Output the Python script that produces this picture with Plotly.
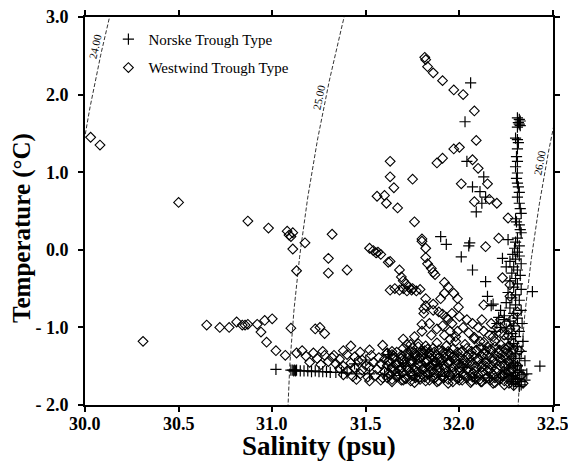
import numpy as np
import plotly.graph_objects as go

# ---- Westwind Trough Type stations (salinity psu, temperature degC) ----
ww_sal = [
    30.03, 30.08, 30.31, 30.50, 30.87, 30.98, 31.08, 31.09, 31.11, 31.10, 31.11, 31.13,
    30.65, 30.72, 30.77, 30.81, 30.84, 30.855, 30.87, 30.92, 30.94, 30.96, 31.00, 30.97,
    31.02, 31.07, 31.10, 31.13,
    31.175, 31.32, 31.30, 31.30, 31.40, 31.23, 31.255, 31.28,
    31.52, 31.54, 31.555, 31.565, 31.58, 31.62, 31.63, 31.68, 31.69, 31.70, 31.715, 31.73, 31.745,
    31.63, 31.655, 31.68, 31.70, 31.72, 31.75, 31.77, 31.79,
    31.80, 31.82, 31.82, 31.81, 31.82,
    31.82, 31.815, 31.83, 31.86, 31.91, 31.97, 32.02, 32.08, 32.09, 31.97, 32.00, 31.88,
    31.91, 32.07, 32.10, 32.01, 32.15, 32.08, 32.16, 32.20, 32.26, 32.21, 31.63, 31.63,
    31.75, 31.65, 31.56, 31.60, 31.61, 31.67, 31.76, 31.80,
    31.83, 31.85, 31.86, 31.87, 31.92, 31.94, 31.97, 31.99, 31.995, 31.92, 31.90, 31.86,
    31.82, 31.86, 31.81, 31.80, 31.91, 31.93, 31.95, 31.99, 32.13, 32.23, 32.27, 32.14,
    31.89, 31.91, 31.94, 31.96, 31.95,
    # upper edge of the cold band
    31.16, 31.22, 31.27, 31.33, 31.38, 31.42, 31.47, 31.52, 31.59, 31.64, 31.70, 31.74,
    31.78, 31.83, 31.88, 31.93, 31.98, 32.03, 32.08, 32.13, 32.18, 32.22,
    31.18, 31.24, 31.28, 31.32, 31.36, 31.40, 31.44, 31.48, 31.53, 31.57, 31.61, 31.65,
    31.69, 31.73, 31.77, 31.81, 31.85, 31.89, 31.93, 31.97, 32.01, 32.05, 32.09, 32.13,
    32.17, 32.21, 32.25,
    31.20, 31.26, 31.30, 31.34, 31.38, 31.42, 31.46, 31.50, 31.54, 31.58, 31.62, 31.66,
    31.70, 31.74, 31.78, 31.82, 31.86, 31.90, 31.94, 31.98, 32.02, 32.06, 32.10, 32.14,
    32.18, 32.22, 32.26,
    31.36, 31.40, 31.44, 31.48, 31.52, 31.56, 31.60, 31.64, 31.68, 31.72, 31.76, 31.80,
    31.84, 31.88, 31.92, 31.96, 32.00, 32.04, 32.08, 32.12, 32.16, 32.20, 32.24, 32.28,
    31.38, 31.43, 31.47, 31.51, 31.55, 31.59, 31.63, 31.67, 31.71, 31.75, 31.79, 31.83,
    31.87, 31.91, 31.95, 31.99, 32.03, 32.07, 32.11, 32.15, 32.19, 32.23, 32.27,
    31.45, 31.52, 31.58, 31.64, 31.70, 31.76, 31.82, 31.88, 31.94, 32.00, 32.06, 32.12,
    32.18, 32.24,
    # dense patch near 31.8 psu
    31.72, 31.75, 31.78, 31.80, 31.82, 31.84, 31.86, 31.88, 31.76, 31.79, 31.83, 31.87,
    31.91, 31.95,
    # 32.0-32.3 psu, -0.8 to -1.3 degC
    31.96, 32.00, 32.04, 32.07, 32.10, 32.13, 32.16, 32.02, 32.05, 32.08, 31.98, 32.12,
    32.17, 32.20, 32.22, 32.25, 32.24, 32.27, 32.19, 32.22, 32.26, 32.15, 32.11,
    31.84, 31.88, 31.92, 31.85, 31.80, 31.76, 31.70,
    # near the 32.3 psu column
    32.28, 32.30, 32.26, 32.29, 32.32, 32.28, 32.31, 32.27, 32.33, 32.30, 32.34, 32.29,
    32.27, 32.31,
    # filling of the dense cold band, 31.6-32.3 psu
    31.615, 31.64, 31.665, 31.69, 31.715, 31.74, 31.765, 31.79, 31.815, 31.84, 31.865, 31.89,
    31.915, 31.94, 31.965, 31.99, 32.015, 32.04, 32.065, 32.09, 32.115, 32.14, 32.165, 32.19,
    32.215, 32.24, 32.265, 32.29,
    31.60, 31.625, 31.65, 31.675, 31.70, 31.725, 31.75, 31.775, 31.80, 31.825, 31.85, 31.875,
    31.90, 31.925, 31.95, 31.975, 32.00, 32.025, 32.05, 32.075, 32.10, 32.125, 32.15, 32.175,
    32.20, 32.225, 32.25, 32.275,
    31.615, 31.64, 31.665, 31.69, 31.715, 31.74, 31.765, 31.79, 31.815, 31.84, 31.865, 31.89,
    31.915, 31.94, 31.965, 31.99, 32.015, 32.04, 32.065, 32.09, 32.115, 32.14, 32.165, 32.19,
    32.215, 32.24, 32.265, 32.29,
    31.60, 31.625, 31.65, 31.675, 31.70, 31.725, 31.75, 31.775, 31.80, 31.825, 31.85, 31.875,
    31.90, 31.925, 31.95, 31.975, 32.00, 32.025, 32.05, 32.075, 32.10, 32.125, 32.15, 32.175,
    32.20, 32.225, 32.25, 32.275,
    31.615, 31.64, 31.665, 31.69, 31.715, 31.74, 31.765, 31.79, 31.815, 31.84, 31.865, 31.89,
    31.915, 31.94, 31.965, 31.99, 32.015, 32.04, 32.065, 32.09, 32.115, 32.14, 32.165, 32.19,
    32.215, 32.24, 32.265, 32.29,
]
ww_temp = [
    1.45, 1.35, -1.18, 0.61, 0.37, 0.28, 0.24, 0.19, 0.22, 0.17, 0.01, -0.27,
    -0.97, -1.00, -1.00, -0.93, -0.97, -0.97, -0.96, -0.96, -1.06, -0.91, -0.89, -1.19,
    -1.30, -1.36, -1.01, -1.33,
    0.09, 0.20, -0.11, -0.30, -0.26, -1.02, -1.00, -1.08,
    0.02, -0.01, -0.04, -0.03, -0.06, -0.16, -0.15, -0.26, -0.35, -0.40, -0.44, -0.48, -0.52,
    -0.52, -0.50, -0.52, -0.50, -0.53, -0.50, -0.53, -0.51,
    0.11, 0.02, -0.10, -0.76, -0.63,
    2.45, 2.48, 2.36, 2.28, 2.18, 2.06, 2.00, 1.79, 1.41, 1.30, 1.32, 1.12,
    1.18, 1.16, 1.05, 0.85, 0.85, 0.62, 0.65, 0.60, 0.41, 0.15, 1.14, 0.94,
    0.91, 0.80, 0.69, 0.70, 0.60, 0.54, 0.36, 0.14,
    -0.18, -0.24, -0.29, -0.32, -0.42, -0.48, -0.56, -0.63, -0.74, -0.56, -0.63, -0.70,
    -0.72, -0.78, -0.82, -0.96, -0.98, -0.87, -1.05, -1.05, -0.71, -0.36, -0.45, 0.04,
    -0.80, -0.83, -0.90, -0.95, -1.15,
    -1.30, -1.33, -1.31, -1.36, -1.30, -1.24, -1.32, -1.29, -1.23, -1.31, -1.27, -1.22,
    -1.25, -1.28, -1.20, -1.24, -1.18, -1.22, -1.15, -1.19, -1.12, -1.08,
    -1.37, -1.40, -1.36, -1.39, -1.41, -1.35, -1.38, -1.42, -1.36, -1.39, -1.34, -1.37,
    -1.40, -1.35, -1.38, -1.33, -1.36, -1.39, -1.34, -1.37, -1.32, -1.35, -1.30, -1.34,
    -1.29, -1.33, -1.28,
    -1.45, -1.48, -1.44, -1.47, -1.50, -1.46, -1.43, -1.49, -1.45, -1.47, -1.44, -1.48,
    -1.46, -1.43, -1.47, -1.45, -1.49, -1.44, -1.46, -1.42, -1.47, -1.44, -1.41, -1.45,
    -1.43, -1.40, -1.44,
    -1.53, -1.56, -1.52, -1.55, -1.51, -1.54, -1.57, -1.53, -1.55, -1.52, -1.56, -1.54,
    -1.51, -1.55, -1.53, -1.57, -1.52, -1.54, -1.56, -1.51, -1.55, -1.53, -1.50, -1.54,
    -1.61, -1.63, -1.60, -1.64, -1.62, -1.65, -1.61, -1.63, -1.66, -1.62, -1.64, -1.60,
    -1.65, -1.63, -1.61, -1.66, -1.62, -1.64, -1.67, -1.63, -1.65, -1.62, -1.66,
    -1.67, -1.69, -1.68, -1.70, -1.68, -1.71, -1.69, -1.70, -1.72, -1.68, -1.71, -1.70,
    -1.72, -1.74,
    -1.22, -1.26, -1.21, -1.30, -1.24, -1.33, -1.27, -1.36, -1.33, -1.40, -1.42, -1.44,
    -1.30, -1.34,
    -0.82, -0.86, -0.90, -0.95, -1.00, -1.05, -1.10, -1.00, -1.07, -1.13, -1.12, -0.90,
    -0.95, -1.00, -0.90, -0.95, -1.10, -1.02, -1.18, -1.22, -1.25, -1.25, -1.18,
    -0.95, -1.02, -1.10, -1.10, -1.05, -1.12, -1.15,
    -0.90, -1.00, -1.10, -1.20, -1.30, -1.40, -1.50, -1.58, -1.62, -1.68, -1.72, -1.75,
    -0.60, -0.80,
    -1.33, -1.35, -1.32, -1.36, -1.34, -1.31, -1.35, -1.33, -1.30, -1.34, -1.32, -1.29,
    -1.33, -1.31, -1.28, -1.32, -1.30, -1.27, -1.31, -1.29, -1.26, -1.30, -1.28, -1.25,
    -1.29, -1.27, -1.24, -1.28,
    -1.41, -1.43, -1.40, -1.44, -1.42, -1.39, -1.43, -1.41, -1.38, -1.42, -1.40, -1.44,
    -1.41, -1.39, -1.43, -1.40, -1.38, -1.42, -1.39, -1.37, -1.41, -1.38, -1.36, -1.40,
    -1.37, -1.35, -1.39, -1.36,
    -1.49, -1.51, -1.48, -1.52, -1.50, -1.47, -1.51, -1.49, -1.53, -1.50, -1.48, -1.52,
    -1.49, -1.47, -1.51, -1.48, -1.50, -1.46, -1.49, -1.51, -1.47, -1.50, -1.48, -1.46,
    -1.49, -1.47, -1.45, -1.48,
    -1.57, -1.59, -1.56, -1.60, -1.58, -1.55, -1.59, -1.57, -1.61, -1.58, -1.56, -1.60,
    -1.57, -1.59, -1.62, -1.58, -1.56, -1.60, -1.57, -1.59, -1.61, -1.58, -1.56, -1.60,
    -1.58, -1.62, -1.59, -1.57,
    -1.65, -1.67, -1.64, -1.68, -1.66, -1.69, -1.65, -1.67, -1.64, -1.68, -1.66, -1.69,
    -1.65, -1.67, -1.70, -1.66, -1.68, -1.65, -1.69, -1.67, -1.70, -1.66, -1.68, -1.71,
    -1.67, -1.69, -1.72, -1.68,
]

# ---- Norske Trough Type stations ----
nt_sal = [
    31.02, 31.10, 31.11, 31.115, 31.12, 31.125, 31.13, 31.15, 31.17, 31.19, 31.21, 31.23,
    31.25, 31.27, 31.29, 31.31, 31.34, 31.37, 31.40,
    31.45, 31.52, 31.60, 31.68, 31.76, 31.84, 31.92, 32.00, 32.08, 32.16, 32.22,
    31.50, 31.62, 31.88, 32.02, 31.70, 31.44,
    32.06, 32.03, 32.04, 32.13, 32.07, 32.11, 32.14, 32.12, 32.09, 31.90,
    31.93, 32.05, 32.055, 32.01, 32.07, 32.14, 32.15, 32.17, 32.22, 32.21, 32.39, 32.26,
    32.23, 32.25, 32.43,
    # 32.3 psu column
    32.31, 32.32, 32.325, 32.315, 32.32, 32.325, 32.31, 32.30, 32.31, 32.315, 32.31, 32.305,
    32.31, 32.30, 32.31, 32.305, 32.31, 32.315, 32.32, 32.31, 32.32, 32.325, 32.33, 32.30,
    32.305, 32.32, 32.325, 32.33, 32.31, 32.30, 32.32, 32.295, 32.31, 32.285, 32.32, 32.30,
    32.27, 32.33, 32.29, 32.31, 32.28, 32.325, 32.30, 32.27, 32.31, 32.29, 32.33, 32.26,
    32.30, 32.28, 32.32, 32.25, 32.30, 32.27, 32.33, 32.29, 32.24, 32.31, 32.27, 32.335,
    32.29, 32.25, 32.32, 32.28, 32.30, 32.26, 32.34, 32.29, 32.31, 32.27, 32.33, 32.30,
    32.28, 32.32, 32.35, 32.29, 32.31, 32.27, 32.33, 32.30, 32.34, 32.28, 32.31, 32.33,
    32.29, 32.32,
    32.30, 32.32, 32.29, 32.31, 32.35, 32.26, 32.24, 32.30, 32.33, 32.28, 32.36,
    32.18, 32.20, 32.19, 32.22, 32.24,
]
nt_temp = [
    -1.54, -1.55, -1.55, -1.56, -1.55, -1.56, -1.55, -1.56, -1.56, -1.56, -1.57, -1.56,
    -1.57, -1.57, -1.57, -1.58, -1.58, -1.58, -1.59,
    -1.60, -1.60, -1.61, -1.62, -1.62, -1.63, -1.63, -1.64, -1.64, -1.65, -1.65,
    -1.42, -1.35, -1.48, -1.52, -1.50, -1.47,
    2.15, 1.65, 1.14, 0.94, 0.81, 0.75, 0.68, 0.60, 0.49, 0.17,
    0.07, 0.05, 0.09, -0.09, -0.26, -0.41, -0.60, -0.72, -0.78, -0.87, -0.54, 0.13,
    -0.11, -0.22, -1.50,
    1.70, 1.68, 1.66, 1.64, 1.62, 1.60, 1.58, 1.44, 1.42, 1.38, 1.30, 1.20,
    1.14, 1.07, 0.99, 0.92, 0.86, 0.81, 0.74, 0.68, 0.60, 0.53, 0.47, 0.40,
    0.36, 0.32, 0.26, 0.22, 0.15, 0.10, 0.05, 0.02, -0.03, -0.06, -0.08, -0.12,
    -0.15, -0.18, -0.22, -0.26, -0.30, -0.33, -0.37, -0.40, -0.44, -0.48, -0.51, -0.55,
    -0.58, -0.62, -0.65, -0.68, -0.71, -0.75, -0.78, -0.82, -0.85, -0.88, -0.92, -0.95,
    -0.98, -1.02, -1.05, -1.08, -1.12, -1.15, -1.18, -1.21, -1.25, -1.28, -1.31, -1.34,
    -1.37, -1.40, -1.43, -1.46, -1.49, -1.52, -1.55, -1.58, -1.61, -1.64, -1.67, -1.70,
    -1.73, -1.76,
    -1.50, -1.58, -1.62, -1.66, -1.68, -1.60, -1.55, -1.70, -1.74, -1.70, -1.60,
    -0.70, -0.95, -1.05, -1.00, -0.90,
]

# density anomaly isolines (sigma-t) and where their labels sit
sigma_levels = [24.0, 25.0, 26.0]
label_temps = [2.62, 1.97, 1.12]

x_ticks = [30.0, 30.5, 31.0, 31.5, 32.0, 32.5]
x_tick_text = ["30.0", "30.5", "31.0", "31.5", "32.0", "32.5"]
y_ticks = [3.0, 2.0, 1.0, 0.0, -1.0, -2.0]
y_tick_text = ["3.0", "2.0", "1.0", "0.0", "- 1.0", "- 2.0"]

X_RANGE = [30.0, 32.5]
Y_RANGE = [-2.0, 3.0]
W, H = 568, 466
M = dict(l=85, r=15, t=17, b=61)


def sigma_t(s, t):
    """UNESCO (EOS-80) density at atmospheric pressure minus 1000 kg/m3."""
    rho_w = (999.842594 + 6.793952e-2 * t - 9.095290e-3 * t**2 + 1.001685e-4 * t**3
             - 1.120083e-6 * t**4 + 6.536332e-9 * t**5)
    a = 8.24493e-1 - 4.0899e-3 * t + 7.6438e-5 * t**2 - 8.2467e-7 * t**3 + 5.3875e-9 * t**4
    b = -5.72466e-3 + 1.0227e-4 * t - 1.6546e-6 * t**2
    c = 4.8314e-4
    return rho_w + a * s + b * s**1.5 + c * s**2 - 1000.0


def isopycnal_salinity(level, temps):
    lo = np.full_like(temps, 25.0)
    hi = np.full_like(temps, 36.0)
    for _ in range(60):
        mid = 0.5 * (lo + hi)
        above = sigma_t(mid, temps) > level
        hi = np.where(above, mid, hi)
        lo = np.where(above, lo, mid)
    return 0.5 * (lo + hi)


serif = "Liberation Serif, Times New Roman, serif"
fig = go.Figure()

plot_w = W - M["l"] - M["r"]
plot_h = H - M["t"] - M["b"]
px_per_s = plot_w / (X_RANGE[1] - X_RANGE[0])
px_per_t = plot_h / (Y_RANGE[1] - Y_RANGE[0])

temps = np.linspace(-2.2, 3.2, 109)
for level, t_lab in zip(sigma_levels, label_temps):
    s_line = isopycnal_salinity(level, temps)
    fig.add_trace(go.Scatter(
        x=s_line, y=temps, mode="lines", showlegend=False, hoverinfo="skip",
        line=dict(color="black", width=0.8, dash="4px,2px"),
    ))
    t_pair = np.array([t_lab - 0.05, t_lab + 0.05])
    s_pair = isopycnal_salinity(level, t_pair)
    dx = (s_pair[1] - s_pair[0]) * px_per_s
    dy = (t_pair[1] - t_pair[0]) * px_per_t
    angle = np.degrees(np.arctan2(dy, dx))
    s_lab = float(isopycnal_salinity(level, np.array([t_lab]))[0])
    fig.add_annotation(
        x=s_lab, y=t_lab, xref="x", yref="y", text=f"{level:.2f}",
        showarrow=False, textangle=-angle, xshift=-7,
        font=dict(family=serif, size=11, color="black"),
    )

fig.add_trace(go.Scatter(
    x=nt_sal, y=nt_temp, mode="markers", name="Norske Trough Type",
    legendgroup="nt",
    marker=dict(symbol="cross-thin-open", size=8, color="black",
                line=dict(color="black", width=1.2)),
))
fig.add_trace(go.Scatter(
    x=ww_sal, y=ww_temp, mode="markers", name="Westwind Trough Type",
    legendgroup="ww",
    marker=dict(symbol="diamond-open", size=7.5, color="black",
                line=dict(color="black", width=1.1)),
))

axis_common = dict(
    showline=True, linecolor="black", linewidth=2, mirror="ticks",
    ticks="outside", ticklen=5, tickwidth=2, tickcolor="black",
    showgrid=False, zeroline=False, automargin=False,
    ticklabeloverflow="allow",
    tickfont=dict(family=serif, size=18, color="black", weight="bold"),
)

tick_font = dict(family=serif, size=18, color="black", weight="bold")

# salinity tick labels, set just under the frame
for xv, xt in zip(x_ticks, x_tick_text):
    fig.add_annotation(
        text=xt, x=xv, xref="x", y=-0.018, yref="paper",
        xanchor="center", yanchor="top", showarrow=False, font=tick_font,
    )

# axis titles, placed in paper coordinates below / left of the frame
fig.add_annotation(
    text="<b>Salinity (psu)</b>", xref="paper", yref="paper",
    x=0.5, y=-0.106, xanchor="center", yanchor="middle", showarrow=False,
    font=dict(family=serif, size=27, color="black"),
)
fig.add_annotation(
    text="<b>Temperature (°C)</b>", xref="paper", yref="paper",
    x=-0.135, y=0.456, xanchor="center", yanchor="middle", showarrow=False,
    textangle=-90, font=dict(family=serif, size=25, color="black"),
)

fig.update_layout(
    width=W, height=H, margin=M,
    paper_bgcolor="white", plot_bgcolor="white",
    xaxis=dict(range=X_RANGE, tickvals=x_ticks, showticklabels=False, **axis_common),
    yaxis=dict(range=Y_RANGE, tickvals=y_ticks, ticktext=y_tick_text,
               ticklabelstandoff=6, **axis_common),
    legend=dict(x=0.05, y=0.985, xanchor="left", yanchor="top",
                bgcolor="rgba(0,0,0,0)", tracegroupgap=6,
                font=dict(family=serif, size=15, color="black")),
    showlegend=True,
)

fig.write_html("out.html")
